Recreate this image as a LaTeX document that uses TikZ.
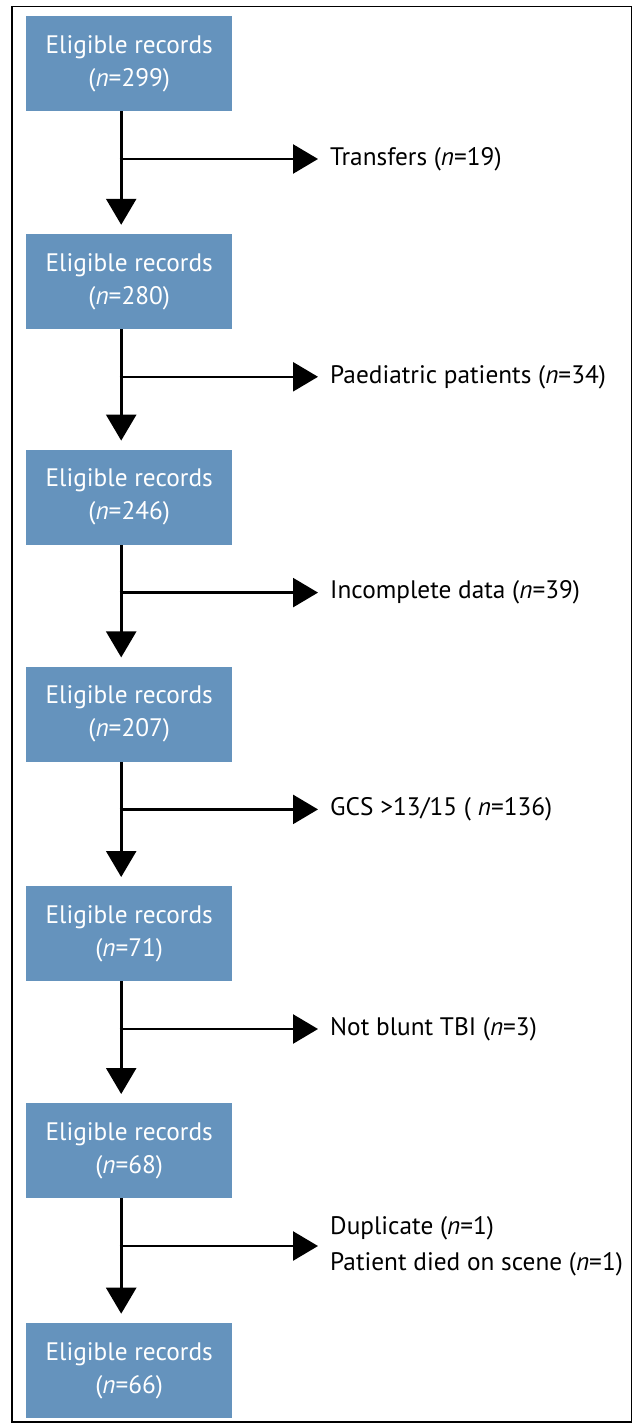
\documentclass[tikz,border=0pt]{standalone}
\usepackage{fontspec}
\setmainfont{PT Sans}
\usetikzlibrary{arrows.meta}
\definecolor{boxblue}{RGB}{101,147,189}
\begin{document}
\begin{tikzpicture}[x=1pt,y=-1pt,
  recbox/.style={rectangle, fill=boxblue, text=white, minimum width=206pt, minimum height=95pt,
    anchor=north west, align=center, font=\fontsize{25.3}{33}\selectfont, inner sep=0pt},
  sidetext/.style={anchor=west, align=left, inner xsep=12pt, inner ysep=0pt,
    font=\fontsize{25.3}{36}\selectfont},
  flow/.style={line width=2.6pt, -{Triangle[length=26pt,width=30pt]}},
  branch/.style={line width=2.6pt, -{Triangle[length=25pt,width=29pt]}}]
\useasboundingbox (0,0) rectangle (638,1423);
\draw[line width=1.3pt] (12,6.5) rectangle (631.5,1422);
\foreach \i/\n/\t in {1/299/16,2/280/233.8,3/246/449.6,4/207/666.4,5/71/886,6/68/1103,7/66/1322.7}{
  \node[recbox] (b\i) at (26,\t) {Eligible records\\(\textit{n}=\n)};
}
\foreach \i/\t in {1/16,2/233.8,3/449.6,4/666.4,5/886,6/1103}{
  \coordinate (j\i) at (121,\t+143);
}
\node[sidetext] (s1) at (318,159) {Transfers (\textit{n}=19)};
\node[sidetext] (s2) at (318,{233.8+143}) {Paediatric patients (\textit{n}=34)};
\node[sidetext] (s3) at (318,{449.6+143}) {Incomplete data (\textit{n}=39)};
\node[sidetext] (s4) at (318,{666.4+143}) {GCS >13/15 ( \textit{n}=136)};
\node[sidetext] (s5) at (318,{886+143}) {Not blunt TBI (\textit{n}=3)};
\node[sidetext] (s6) at (318,{1103+143}) {Duplicate (\textit{n}=1)\\Patient died on scene (\textit{n}=1)};
\foreach \i [evaluate=\i as \k using int(\i+1)] in {1,...,6}{
  \draw[flow, shorten >=9pt] ([xshift=-8pt]b\i.south) -- ([xshift=-8pt]b\k.north);
  \draw[branch] ([xshift=-1.3pt]j\i) -- (j\i -| s\i.west);
}
\end{tikzpicture}
\end{document}
